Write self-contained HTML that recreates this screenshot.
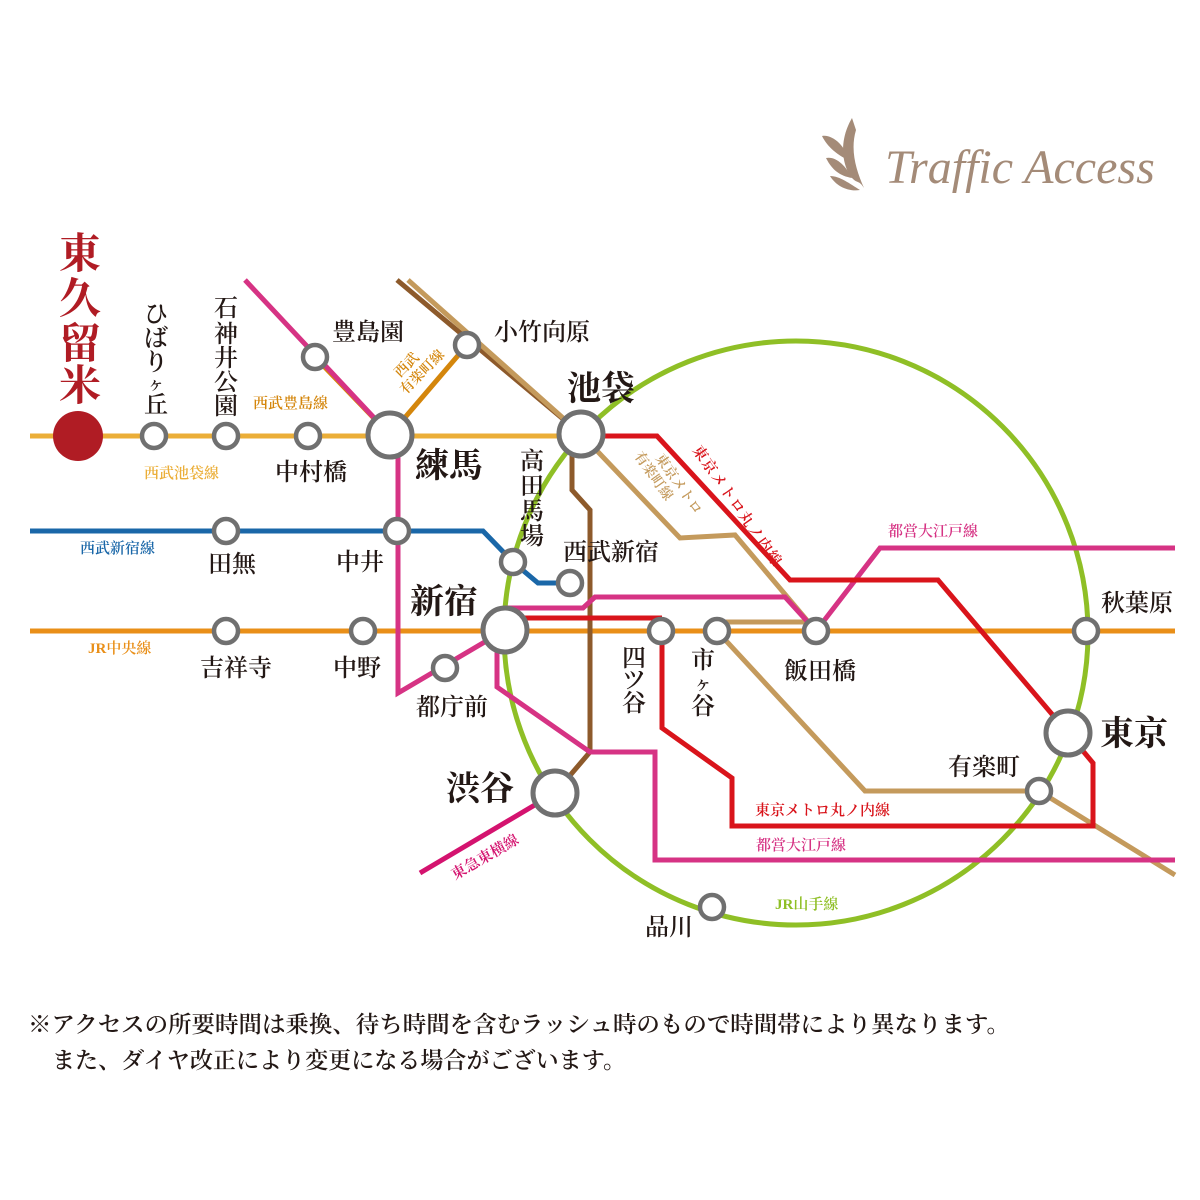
<!DOCTYPE html>
<html><head><meta charset="utf-8"><style>
html,body{margin:0;padding:0;background:#fff}
svg{display:block}
text{font-family:"Liberation Serif","Noto Serif CJK SC",serif}
</style></head><body>
<svg width="1200" height="1200" viewBox="0 0 1200 1200" xmlns="http://www.w3.org/2000/svg">
<g fill="none" stroke-width="5" stroke-linejoin="miter">
<circle cx="796" cy="633" r="292" stroke="#8fbf26"/>
<line x1="30" y1="436" x2="580" y2="436" stroke="#ebae38"/>
<polyline points="30,531 483,531 513,562 538,583 570,583" stroke="#1a67a8"/>
<line x1="30" y1="631" x2="1175" y2="631" stroke="#e98f18"/>
<polyline points="397,280 581,434 572,440 572,490 590,510 590,752 555,793" stroke="#8d5a2b"/>
<polyline points="408,280 581,434 680,538 735,535 816,631" stroke="#c49a5c"/>
<polyline points="816,622 717,622" stroke="#c49a5c"/>
<polyline points="717,631 865,791 1039,791 1175,875" stroke="#c49a5c"/>
<polyline points="315,357 390,435 467,345" stroke="#d4860c"/>
<polyline points="245,280 378,422" stroke="#d63384"/>
<polyline points="398,436 398,693 505,630" stroke="#d63384"/>
<polyline points="505,608 583,608 595,597 785,597 816,631 880,548 1175,548" stroke="#d63384"/>
<polyline points="497,640 497,687 590,752 655,752 655,860 1175,860" stroke="#d63384"/>
<polyline points="581,436 657,436 790,580 938,580 1068,733 1093,763 1093,826 732,826 732,778 662,728 662,631" stroke="#d9141b"/>
<polyline points="520,618 662,618" stroke="#d9141b"/>
<line x1="420" y1="873" x2="555" y2="793" stroke="#d4136f"/>
</g>
<circle cx="78" cy="436" r="25" fill="#b01c24"/>
<g fill="#fff" stroke="#707070" stroke-width="4.5">
<circle cx="154" cy="436" r="12"/><circle cx="226" cy="436" r="12"/><circle cx="308" cy="436" r="12"/>
<circle cx="315" cy="357" r="12"/><circle cx="467" cy="345" r="12"/><circle cx="397" cy="531" r="12"/>
<circle cx="226" cy="531" r="12"/><circle cx="513" cy="562" r="12"/><circle cx="570" cy="583" r="12"/>
<circle cx="226" cy="631" r="12"/><circle cx="363" cy="631" r="12"/><circle cx="445" cy="668" r="12"/>
<circle cx="661" cy="631" r="12"/><circle cx="717" cy="631" r="12"/><circle cx="816" cy="631" r="12"/>
<circle cx="1086" cy="631" r="12"/><circle cx="1039" cy="791" r="12"/><circle cx="712" cy="907" r="12"/>
</g>
<g fill="#fff" stroke="#707070" stroke-width="5">
<circle cx="390" cy="435" r="22"/><circle cx="581" cy="434" r="22"/><circle cx="505" cy="630" r="22"/>
<circle cx="555" cy="793" r="22"/><circle cx="1068" cy="733" r="22"/>
</g>
<g fill="#b01c24" font-size="42" font-weight="bold" text-anchor="middle">
<text x="80" y="268">東</text><text x="80" y="313">久</text><text x="80" y="358">留</text><text x="80" y="400">米</text>
</g>
<g fill="#231815" font-size="24" font-weight="600" text-anchor="middle">
<text x="156" y="322">ひ</text><text x="156" y="346">ば</text><text x="156" y="370">り</text><text x="156" y="390" font-size="17">ヶ</text><text x="156" y="413">丘</text>
<text x="226" y="316">石</text><text x="226" y="342">神</text><text x="226" y="366">井</text><text x="226" y="390">公</text><text x="226" y="414">園</text>
<text x="532" y="469">高</text><text x="532" y="494">田</text><text x="532" y="519">馬</text><text x="532" y="544">場</text>
<text x="634" y="666">四</text><text x="634" y="688">ツ</text><text x="634" y="711">谷</text>
<text x="703" y="668">市</text><text x="703" y="690" font-size="18">ヶ</text><text x="703" y="714">谷</text>
</g>
<g fill="#231815" font-size="24" font-weight="600">
<text x="332" y="340">豊島園</text>
<text x="494" y="340">小竹向原</text>
<text x="275" y="480">中村橋</text>
<text x="208" y="572">田無</text>
<text x="336" y="570">中井</text>
<text x="563" y="560">西武新宿</text>
<text x="200" y="676">吉祥寺</text>
<text x="333" y="676">中野</text>
<text x="416" y="715">都庁前</text>
<text x="784" y="679">飯田橋</text>
<text x="1101" y="611">秋葉原</text>
<text x="948" y="775">有楽町</text>
<text x="645" y="935">品川</text>
</g>
<g fill="#231815" font-size="34" font-weight="bold">
<text x="567" y="400">池袋</text>
<text x="415" y="477">練馬</text>
<text x="410" y="613">新宿</text>
<text x="446" y="800">渋谷</text>
<text x="1100" y="745">東京</text>
</g>
<g font-size="15" font-weight="600">
<text x="144" y="478" fill="#ebae38">西武池袋線</text>
<text x="80" y="553" fill="#1a67a8">西武新宿線</text>
<text x="88" y="653" fill="#e98f18">JR中央線</text>
<text x="253" y="408" fill="#d4860c">西武豊島線</text>
<text x="888" y="536" fill="#d63384">都営大江戸線</text>
<text x="755" y="815" fill="#d9141b">東京メトロ丸ノ内線</text>
<text x="756" y="850" fill="#d63384">都営大江戸線</text>
<text x="775" y="909" fill="#8fbf26">JR山手線</text>
<text transform="translate(455,880) rotate(-30)" fill="#d4136f">東急東横線</text>
<text transform="translate(400,378) rotate(-45)" fill="#d4860c" font-size="14"><tspan x="0" y="0">西武</tspan><tspan x="-8" y="16">有楽町線</tspan></text>
<text transform="translate(692,450) rotate(55)" fill="#d9141b" font-size="15" letter-spacing="1">東京メトロ丸ノ内線</text>
<text transform="translate(655,458) rotate(55)" fill="#c49a5c" font-size="14"><tspan x="0" y="0">東京メトロ</tspan><tspan x="-14" y="16">有楽町線</tspan></text>
</g>
<g fill="#a48b78">
<path d="M852,118 C842,135 840,155 848,172 C856,186 858,178 864,188 C856,170 850,150 856,130 Z"/>
<path d="M822,136 C832,134 846,146 848,160 C838,155 828,148 822,136 Z"/>
<path d="M826,158 C836,156 846,166 852,178 C840,176 832,170 826,158 Z"/>
<path d="M830,176 C840,176 850,184 860,190 C848,192 836,186 830,176 Z"/>
<text x="885" y="183" font-size="48" font-style="italic" font-family="Liberation Serif,serif">Traffic Access</text>
</g>
<g fill="#231815" font-size="23" font-weight="600">
<text x="28" y="1032" textLength="982" lengthAdjust="spacingAndGlyphs">※アクセスの所要時間は乗換、待ち時間を含むラッシュ時のもので時間帯により異なります。</text>
<text x="52" y="1068" textLength="574" lengthAdjust="spacingAndGlyphs">また、ダイヤ改正により変更になる場合がございます。</text>
</g>
</svg>
</body></html>
